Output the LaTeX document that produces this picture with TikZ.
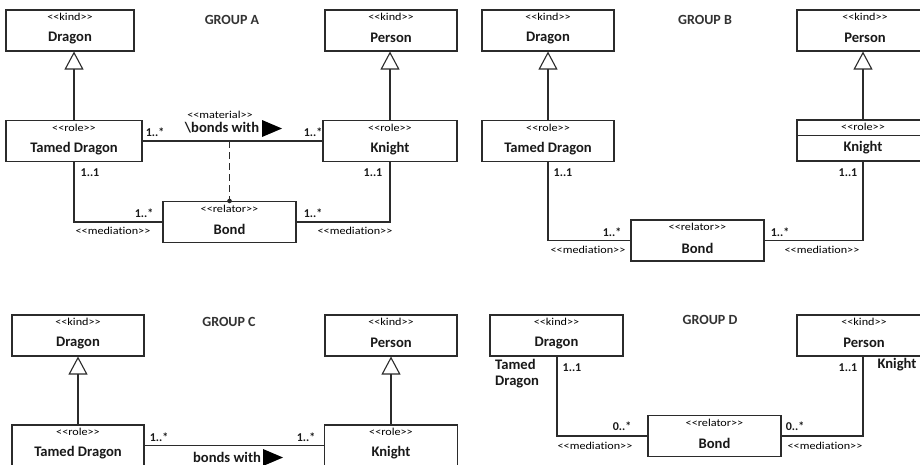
\documentclass[tikz,border=0pt]{standalone}
\usepackage{fontspec}
\setmainfont{Carlito}
\newfontfamily\stereofont[FakeStretch=1.15,Ligatures=NoCommon]{Carlito}
\usetikzlibrary{arrows.meta}
\definecolor{linec}{HTML}{2B2B2B}
\tikzset{
 cls/.style={draw=linec, line width=1.1pt, fill=white, inner sep=0pt, minimum height=41pt},
 stereo/.style={inner sep=0pt, font=\stereofont\fontsize{10.6}{11}\selectfont, text=black},
 clsname/.style={inner sep=0pt, font=\bfseries\fontsize{14.6}{16}\selectfont, text=black!90},
 grptitle/.style={inner sep=0pt, font=\bfseries\fontsize{14}{16}\selectfont, text=black!80},
 mult/.style={inner sep=0pt, font=\bfseries\fontsize{12}{13}\selectfont, text=black!90},
 conn/.style={draw=linec, line width=1.2pt},
 gen/.style={conn, -{Triangle[open, length=18pt, width=19pt, line width=1.1pt]}},
}
\newcommand\umlbox[6]{%
 \node[cls, minimum width=#4pt] (#1) at (#2,#3) {};
 \node[stereo] (#1-st) at ([yshift=-7.5pt]#1.north) {<<#5>>};
 \node[clsname] (#1-nm) at ([yshift=-28.5pt]#1.north) {#6};
}
\begin{document}
\begin{tikzpicture}[x=1pt,y=-1pt]
\clip (0,0) rectangle (920,464);
\fill[white] (0,0) rectangle (920,464);

% ================= GROUP A =================
\node[grptitle] (aTitle) at (232,20) {GROUP A};
\umlbox{aDragon}{70}{30.5}{128}{kind}{Dragon}
\umlbox{aPerson}{391}{30.5}{132}{kind}{Person}
\umlbox{aTamed}{74}{141}{136}{role}{Tamed Dragon}
\umlbox{aKnight}{390}{141}{134}{role}{Knight}
\umlbox{aBond}{229.5}{222}{133}{relator}{Bond}
\draw[gen] (aTamed.north) -- (aTamed.north |- aDragon.south);
\draw[gen] (aKnight.north) -- (aKnight.north |- aPerson.south);
\draw[conn] (aTamed.east) -- (aKnight.west);
\coordinate (aMid) at (229.5,141);
\draw[conn, dash pattern=on 7pt off 4pt] (aMid) -- (aBond.north);
\fill[linec] (aBond.north) circle (2.3pt);
\draw[conn] (aTamed.south) |- (aBond.west);
\draw[conn] (aBond.east) -| (aKnight.south);
\node[stereo] (aMatSt) at (220,115) {<<material>>};
\node[clsname] (aMatNm) at (222,128) {\textbackslash bonds with};
\fill[black] (262,120) -- (282,128.5) -- (262,137) -- cycle;
\node[mult] (aM1) at (155,132) {1..*};
\node[mult] (aM2) at (313,132) {1..*};
\node[mult] (aM3) at (90,173) {1..1};
\node[mult] (aM4) at (373,173) {1..1};
\node[mult] (aM5) at (144,213) {1..*};
\node[mult] (aM6) at (313,213) {1..*};
\node[stereo] (aMed1) at (113,231) {<<mediation>>};
\node[stereo] (aMed2) at (355,231) {<<mediation>>};

% ================= GROUP B =================
\node[grptitle] (bTitle) at (705,20) {GROUP B};
\umlbox{bDragon}{548}{30.5}{132}{kind}{Dragon}
\umlbox{bPerson}{865}{30.5}{136}{kind}{Person}
\umlbox{bTamed}{548}{141}{132}{role}{Tamed Dragon}
\umlbox{bKnight}{863}{140.5}{132}{role}{Knight}
\draw[conn] ([yshift=-16pt]bKnight.north west) -- ([yshift=-16pt]bKnight.north east);
\umlbox{bBond}{697.5}{240.5}{133}{relator}{Bond}
\draw[gen] (bTamed.north) -- (bTamed.north |- bDragon.south);
\draw[gen] (bKnight.north) -- (bKnight.north |- bPerson.south);
\draw[conn] (bTamed.south) |- (bBond.west);
\draw[conn] (bBond.east) -| (bKnight.south);
\node[mult] (bM1) at (563,173) {1..1};
\node[mult] (bM2) at (848,173) {1..1};
\node[mult] (bM3) at (612,232) {1..*};
\node[mult] (bM4) at (780,232) {1..*};
\node[stereo] (bMed1) at (588,250) {<<mediation>>};
\node[stereo] (bMed2) at (822,250) {<<mediation>>};

% ================= GROUP C =================
\node[grptitle] (cTitle) at (229,322) {GROUP C};
\umlbox{cDragon}{78}{335.5}{132}{kind}{Dragon}
\umlbox{cPerson}{391}{335.5}{132}{kind}{Person}
\umlbox{cTamed}{78}{445.5}{132}{role}{Tamed Dragon}
\umlbox{cKnight}{391}{445.5}{133}{role}{Knight}
\draw[gen] (cTamed.north) -- (cTamed.north |- cDragon.south);
\draw[gen] (cKnight.north) -- (cKnight.north |- cPerson.south);
\draw[conn] (cTamed.east) -- (cKnight.west);
\node[mult] (cM1) at (159,437) {1..*};
\node[mult] (cM2) at (306,437) {1..*};
\node[clsname] (cAssoc) at (227,457) {bonds with};
\fill[black] (263,449) -- (283,457.5) -- (263,466) -- cycle;

% ================= GROUP D =================
\node[grptitle] (dTitle) at (710,320) {GROUP D};
\umlbox{dDragon}{556.5}{335.5}{133}{kind}{Dragon}
\umlbox{dPerson}{864}{335.5}{134}{kind}{Person}
\umlbox{dBond}{714.5}{436}{133}{relator}{Bond}
\draw[conn] (dDragon.south -| 557,0) |- (dBond.west);
\draw[conn] (dBond.east) -| (dPerson.south -| 863,0);
\node[clsname, align=left, anchor=west] (dTamedLbl) at (495,374) {Tamed\\Dragon};
\node[clsname] (dKnightLbl) at (897,365) {Knight};
\node[mult] (dM1) at (572,368) {1..1};
\node[mult] (dM2) at (848,368) {1..1};
\node[mult] (dM3) at (622,426) {0..*};
\node[mult] (dM4) at (795,426) {0..*};
\node[stereo] (dMed1) at (595,446) {<<mediation>>};
\node[stereo] (dMed2) at (825,446) {<<mediation>>};
\end{tikzpicture}
\end{document}
